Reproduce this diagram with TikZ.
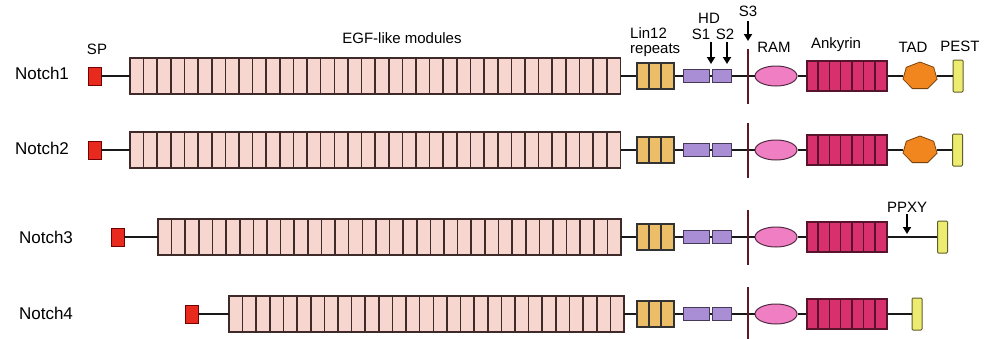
\documentclass[tikz,border=0pt]{standalone}
\usepackage{fontspec}
\setmainfont{Liberation Sans}
\usetikzlibrary{shapes.geometric,arrows.meta}
\definecolor{spred}{HTML}{E82A1E}
\definecolor{egfcol}{HTML}{F6D6CF}
\definecolor{egfline}{HTML}{3E2A28}
\definecolor{linfill}{HTML}{EDBE68}
\definecolor{hdfill}{HTML}{A98ED6}
\definecolor{ramfill}{HTML}{F07EC2}
\definecolor{ankfill}{HTML}{D8306C}
\definecolor{tadfill}{HTML}{F2861E}
\definecolor{pestfill}{HTML}{EEEC70}
\definecolor{s3col}{HTML}{5E1A20}
\tikzset{
  base/.style={line width=1.6pt, draw=black!90},
  spbox/.style={rectangle, draw=red!45!black, fill=spred, minimum width=13pt, minimum height=18pt, inner sep=0pt, line width=0.7pt},
  egfnode/.style={rectangle, minimum height=36pt, inner sep=0pt},
  egfcell/.style={draw=egfline, line width=1.6pt, fill=egfcol},
  linbox/.style={rectangle, draw=black!80, line width=1.4pt, fill=linfill, minimum width=37pt, minimum height=26pt, inner sep=0pt},
  linsep/.style={line width=2.2pt, draw=black!80},
  hdbox/.style={rectangle, draw=hdfill!40!black, line width=1pt, fill=hdfill, minimum height=13pt, inner sep=0pt},
  ramshape/.style={ellipse, draw=ramfill!35!black, line width=1pt, fill=ramfill, minimum width=42pt, minimum height=20pt, inner sep=0pt},
  ankbox/.style={rectangle, draw=ankfill!40!black, line width=1.2pt, fill=ankfill, minimum width=80pt, minimum height=30pt, inner sep=0pt},
  anksep/.style={line width=1.4pt, draw=ankfill!40!black},
  tadshape/.style={regular polygon, regular polygon sides=7, draw=tadfill!50!black, fill=tadfill, minimum size=28pt, inner sep=0pt, xscale=1.25, transform shape, line width=0.8pt},
  pestbox/.style={rectangle, draw=pestfill!40!black, fill=pestfill, line width=1pt, minimum width=10pt, minimum height=32pt, inner sep=0pt, rounded corners=1pt},
  s3bar/.style={rectangle, fill=s3col, minimum width=2.6pt, minimum height=55pt, inner sep=0pt},
  lbl/.style={font=\fontsize{15}{16}\selectfont, inner sep=0pt},
  nlbl/.style={font=\fontsize{17}{18}\selectfont, inner sep=0pt},
  arr/.style={-{Triangle[width=8pt,length=7pt]}, line width=2.2pt}
}
% #1 id, #2 y, #3 sp x, #4 egf left x, #5 egf count, #6 pest x
\newcommand\NRow[6]{%
  \node[spbox] (sp#1) at (#3,#2) {};
  \pgfmathsetmacro\egfw{#5*13.62}
  \node[egfnode, minimum width=\egfw pt, anchor=west] (egf#1) at (#4,#2) {};
  \foreach \i in {1,...,#5}{%
    \draw[egfcell] ({#4+(\i-1)*13.62},{#2-18}) rectangle ++(13.62,36);}
  \node[linbox] (lin#1) at (655.5,#2) {};
  \foreach \k in {1,2}{\draw[linsep] ([xshift=\k*12.33pt]lin#1.north west) -- ([xshift=\k*12.33pt]lin#1.south west);}
  \node[hdbox, minimum width=26pt] (hda#1) at (696,#2) {};
  \node[hdbox, minimum width=19pt] (hdb#1) at (721.5,#2) {};
  \node[ramshape] (ram#1) at (776,#2) {};
  \node[ankbox] (ank#1) at (847,#2) {};
  \foreach \k in {1,...,6}{\draw[anksep] ([xshift=\k*11.43pt]ank#1.north west) -- ([xshift=\k*11.43pt]ank#1.south west);}
  \node[pestbox] (pest#1) at (#6,#2) {};
  \draw[base] (sp#1) -- (egf#1);
  \draw[base] (egf#1) -- (lin#1);
  \draw[base] (lin#1) -- (hda#1);
  \draw[base] (hda#1) -- (hdb#1);
  \draw[base] (hdb#1) -- (ram#1);
  \draw[base] (ram#1) -- (ank#1);
  \node[s3bar] (s3#1) at (748,#2) {};
}
\begin{document}
\begin{tikzpicture}[x=1pt,y=-1pt]
\useasboundingbox[fill=white] (0,0) rectangle (984,338);
\NRow{1}{76}{94.5}{130}{36}{958}
\NRow{2}{150}{94.5}{130}{36}{957.5}
\NRow{3}{237}{117.5}{158}{34}{942.5}
\NRow{4}{314}{192}{229}{29}{917}
\node[tadshape] (tad1) at (920,76) {};
\node[tadshape] (tad2) at (920,150) {};
\draw[base] (ank1) -- (tad1);
\draw[base] (tad1) -- (pest1);
\draw[base] (ank2) -- (tad2);
\draw[base] (tad2) -- (pest2);
\draw[base] (ank3) -- (pest3);
\draw[base] (ank4) -- (pest4);
% labels
\node[nlbl] (n1) at (42,73) {Notch1};
\node[nlbl] (n2) at (42,148) {Notch2};
\node[nlbl] (n3) at (46,237) {Notch3};
\node[nlbl] (n4) at (46,313) {Notch4};
\node[lbl] (splbl) at (97,49) {SP};
\node[lbl] (egflbl) at (402,38) {EGF-like modules};
\node[lbl, font=\fontsize{15}{15}\selectfont, align=left, anchor=west] (linlbl) at (630,42) {Lin12\\repeats};
\node[lbl] (hdlbl) at (709,18) {HD};
\node[lbl] (s1lbl) at (701,34) {S1};
\node[lbl] (s2lbl) at (725,34) {S2};
\node[lbl] (s3lbl) at (748,11) {S3};
\node[lbl] (ramlbl) at (774,47) {RAM};
\node[lbl] (anklbl) at (836,45) {Ankyrin};
\node[lbl] (tadlbl) at (913,47) {TAD};
\node[lbl] (pestlbl) at (960,46) {PEST};
\node[lbl] (ppxylbl) at (907,207) {PPXY};
% arrows
\coordinate (s1a) at (711,42); \coordinate (s1b) at (711,64);
\coordinate (s2a) at (727,42); \coordinate (s2b) at (727,64);
\coordinate (s3a) at (748,21); \coordinate (s3b) at (748,41);
\coordinate (ppa) at (907,214); \coordinate (ppb) at (907,234);
\draw[arr] (s1a) -- (s1b);
\draw[arr] (s2a) -- (s2b);
\draw[arr] (s3a) -- (s3b);
\draw[arr] (ppa) -- (ppb);
\end{tikzpicture}
\end{document}
